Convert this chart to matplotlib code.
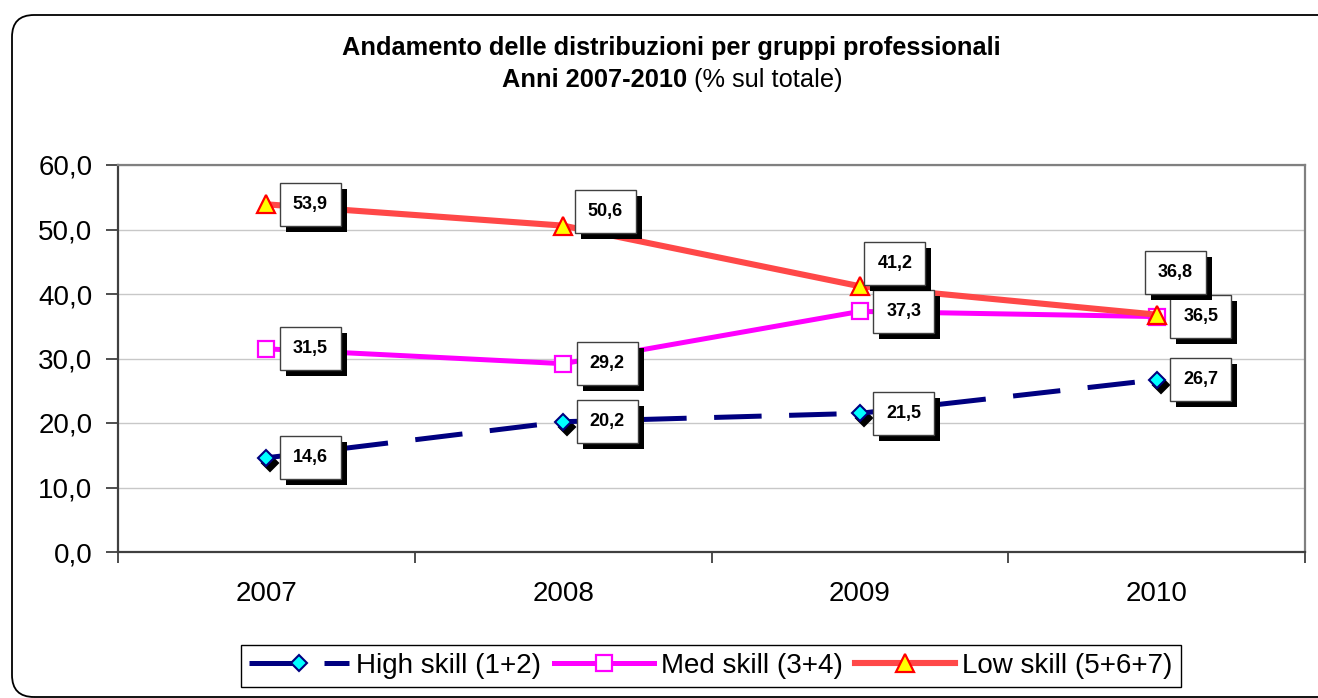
import matplotlib
matplotlib.use('Agg')
import matplotlib.pyplot as plt
import matplotlib.patheffects as pe
from matplotlib.patches import FancyBboxPatch
from matplotlib.transforms import IdentityTransform, ScaledTranslation

plt.rcParams['font.family'] = ['Liberation Sans', 'DejaVu Sans']

# ---- data ----
years = ['2007', '2008', '2009', '2010']
high_skill = [14.6, 20.2, 21.5, 26.7]
med_skill = [31.5, 29.2, 37.3, 36.5]
low_skill = [53.9, 50.6, 41.2, 36.8]
series_names = ['High skill (1+2)', 'Med skill (3+4)', 'Low skill (5+6+7)']
y_ticks = [0, 10, 20, 30, 40, 50, 60]
title_line1 = 'Andamento delle distribuzioni per gruppi professionali'
title_line2_bold = 'Anni 2007-2010'
title_line2_normal = ' (% sul totale)'


def fmt(v):
    return f'{v:.1f}'.replace('.', ',')


W, H = 1318, 698
fig = plt.figure(figsize=(W / 100, H / 100), dpi=100)
fig.patch.set_facecolor('white')

ax = fig.add_axes([118 / W, 1 - 552 / H, (1305 - 118) / W, (552 - 165) / H])
xs = list(range(len(years)))
ax.set_xlim(-0.5, len(years) - 0.5)
ax.set_ylim(0, 60)

# lines
l_high, = ax.plot(xs, high_skill, color='#000080', lw=3.6, dashes=(9.5, 5.5),
                  marker='D', ms=8.5, mfc='#00FFFF', mec='#000080', mew=1.5,
                  zorder=3, label=series_names[0])
# diamond shadows
shadow_tr = ax.transData + ScaledTranslation(4 / 100, -5 / 100, fig.dpi_scale_trans)
ax.plot(xs, high_skill, ls='none', marker='D', ms=8.5, mfc='black', mec='black',
        mew=1.5, transform=shadow_tr, zorder=2.9)
l_med, = ax.plot(xs, med_skill, color='#FF00FF', lw=3.6, marker='s', ms=11,
                 mfc='white', mec='#FF00FF', mew=1.6, zorder=3.1, label=series_names[1])
l_low, = ax.plot(xs, low_skill, color='#FF4848', lw=4.4, marker='^', ms=13.5,
                 mfc='#FFFF00', mec='#FF0000', mew=1.6, zorder=3.2, label=series_names[2])

# data labels (offsets in pixels, styling only)
default_off = (44, 0)
special_off = {(2, 1): (42, 14), (2, 2): (35, 23), (2, 3): (19, 42)}
for si, vals in enumerate([high_skill, med_skill, low_skill]):
    for i, v in enumerate(vals):
        dx, dy = special_off.get((si, i), default_off)
        ann = ax.annotate(fmt(v), (xs[i], v), xytext=(dx, dy), textcoords='offset pixels',
                          ha='center', va='center', fontsize=13, fontweight='bold',
                          color='black',
                          bbox=dict(boxstyle='square,pad=0.72', fc='white', ec='#404040', lw=1),
                          zorder=6)
        ann.get_bbox_patch().set_path_effects([
            pe.SimplePatchShadow(offset=(4.3, -4.3), shadow_rgbFace='black', alpha=1.0),
            pe.Normal()])

# axes styling
ax.set_yticks(y_ticks, [fmt(v) for v in y_ticks])
ax.tick_params(axis='y', direction='out', length=9, width=1.3, color='#404040',
               pad=9.5, labelsize=20)
ax.set_xticks(xs, years)
ax.set_xticks([i - 0.5 for i in range(len(years) + 1)], minor=True)
ax.tick_params(axis='x', which='major', length=0, pad=21, labelsize=20)
ax.tick_params(axis='x', which='minor', direction='out', length=8, width=1.3, color='#404040')
ax.yaxis.grid(True, color='#C8C8C8', lw=1)
ax.set_axisbelow(True)
for s in ['left', 'bottom']:
    ax.spines[s].set_color('#404040')
    ax.spines[s].set_linewidth(1.6)
for s in ['top', 'right']:
    ax.spines[s].set_color('#808080')
    ax.spines[s].set_linewidth(1.6)

# legend
leg = fig.legend([l_high, l_med, l_low], series_names, loc='center',
                 bbox_to_anchor=(711 / W, 1 - 666 / H), ncol=3, fontsize=20,
                 frameon=True, fancybox=False, edgecolor='black', framealpha=1,
                 handlelength=3.6, handletextpad=0.25, columnspacing=0.45,
                 borderpad=0.3, borderaxespad=0.3)
leg.get_frame().set_linewidth(1.0)

# title
fig.text(671 / W, 1 - 48 / H, title_line1, ha='center', va='center',
         fontsize=18.3, fontweight='bold')
t1 = fig.text(0, 1 - 80 / H, title_line2_bold, ha='left', va='center',
              fontsize=18.3, fontweight='bold')
t2 = fig.text(0, 1 - 80 / H, title_line2_normal, ha='left', va='center',
              fontsize=18.3)
fig.canvas.draw()
w1 = t1.get_window_extent().width
w2 = t2.get_window_extent().width
start = 672 - (w1 + w2) / 2
t1.set_x(start / W)
t2.set_x((start + w1) / W)

# outer rounded border
border = FancyBboxPatch((12, 1), 1330, 682, boxstyle='round,pad=0,rounding_size=22',
                        transform=IdentityTransform(), fill=False, ec='black', lw=1.3)
fig.add_artist(border)

fig.savefig('out.png', dpi=100)
